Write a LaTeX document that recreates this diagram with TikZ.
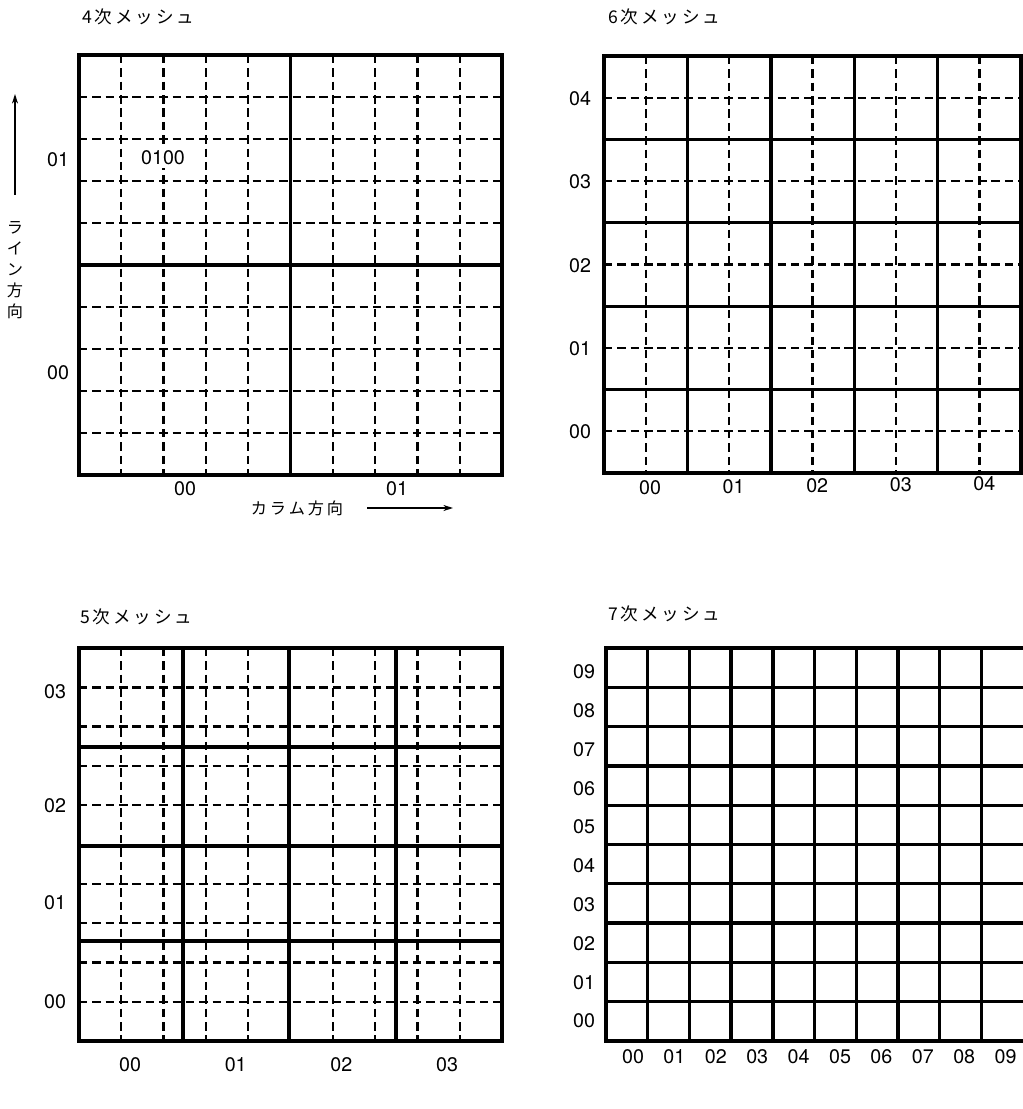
\documentclass[tikz,border=0pt]{standalone}
\usepackage{fontspec}
\setsansfont{TeX Gyre Heros}
\newfontfamily\jpfont{Noto Sans CJK JP}
\usetikzlibrary{arrows.meta}
\newcommand\jsp{\hspace{2pt}}

\begin{document}
\begin{tikzpicture}[
  x=0.025cm, y=-0.025cm,
  frame/.style={line width=2.6pt},
  solidline/.style={line width=2.4pt},
  dashline/.style={line width=1.7pt, dash pattern=on 6pt off 3.5pt},
  num/.style={font=\sffamily\fontsize{14}{14}\selectfont, inner sep=0pt},
  title/.style={font=\jpfont\fontsize{12.5}{12.5}\selectfont, anchor=west, inner sep=0pt},
  dirtext/.style={font=\jpfont\fontsize{11.5}{15}\selectfont, inner sep=0pt, align=center},
  arr/.style={-{Stealth[length=2.4mm, width=1.5mm]}, line width=0.9pt}
]
\useasboundingbox (0,0) rectangle (1023,1109);

% 4次メッシュ
\node[title] (t4) at (82,17) {4\jsp 次\jsp メ\jsp ッ\jsp シ\jsp ュ};
\draw[dashline] foreach \k in {1,2,3,4,6,7,8,9} {(79+42.3*\k,55) -- (79+42.3*\k,475) (79,55+42*\k) -- (502,55+42*\k)};
\draw[solidline] (290.5,55) -- (290.5,475) (79,265) -- (502,265);
\draw[frame] (79,55) rectangle (502,475);
\node[num] (r41) at (58,160) {01};
\node[num] (r40) at (58,373) {00};
\node[num] (c40) at (185,489) {00};
\node[num] (c41) at (397,489) {01};
\node[num, fill=white, inner sep=2pt] (cell) at (163,158) {0100};

\coordinate (lineS) at (15,195);
\coordinate (lineE) at (15,94);
\draw[arr] (lineS) -- (lineE);
\node[dirtext] (linetxt) at (15,270) {ラ\\イ\\ン\\方\\向};
\node[dirtext] (coltxt) at (297,508) {カ\jsp ラ\jsp ム\jsp 方\jsp 向};
\coordinate (colS) at (367,508);
\coordinate (colE) at (453,508);
\draw[arr] (colS) -- (colE);

% 6次メッシュ
\node[title] (t6) at (608,17) {6\jsp 次\jsp メ\jsp ッ\jsp シ\jsp ュ};
\draw[dashline] foreach \k in {1,3,5,7,9} {(604+41.7*\k,56) -- (604+41.7*\k,473) (604,56+41.7*\k) -- (1021,56+41.7*\k)};
\draw[solidline] foreach \k in {2,4,6,8} {(604+41.7*\k,56) -- (604+41.7*\k,473) (604,56+41.7*\k) -- (1021,56+41.7*\k)};
\draw[frame] (604,56) rectangle (1021,473);
\foreach \i in {0,...,4} {
  \node[num] (r6\i) at (580,432-83.4*\i) {0\i};
  \node[num] (c6\i) at (650+83.6*\i,488-\i) {0\i};
}

% 5次メッシュ
\node[title] (t5) at (80,617) {5\jsp 次\jsp メ\jsp ッ\jsp シ\jsp ュ};
\draw[dashline] foreach \k in {1,2,3,4,6,7,8,9} {(79+42.3*\k,648) -- (79+42.3*\k,1041) (79,648+39.3*\k) -- (502,648+39.3*\k)};
\draw[solidline] foreach \x in {183,289,396} {(\x,648) -- (\x,1041)};
\draw[solidline] foreach \y in {747,846,941} {(79,\y) -- (502,\y)};
\draw[frame] (79,648) rectangle (502,1041);
\foreach \i in {0,...,3} {
  \node[num] (c5\i) at (130+105.7*\i,1065) {0\i};
}
\node[num] (r50) at (55,1002) {00};
\node[num] (r51) at (55,903) {01};
\node[num] (r52) at (55,806) {02};
\node[num] (r53) at (55,692) {03};

% 7次メッシュ
\node[title] (t7) at (608,614) {7\jsp 次\jsp メ\jsp ッ\jsp シ\jsp ュ};
\draw[solidline] foreach \k in {1,...,9} {(606+41.7*\k,648) -- (606+41.7*\k,1041) (606,648+39.3*\k) -- (1023,648+39.3*\k)};
\draw[frame] (1023,648) -- (606,648) -- (606,1041) -- (1023,1041);
\foreach \i in {0,...,9} {
  \node[num] (r7\i) at (584,1021-38.8*\i) {0\i};
  \node[num] (c7\i) at (633+41.4*\i,1057) {0\i};
}
\end{tikzpicture}
\end{document}
